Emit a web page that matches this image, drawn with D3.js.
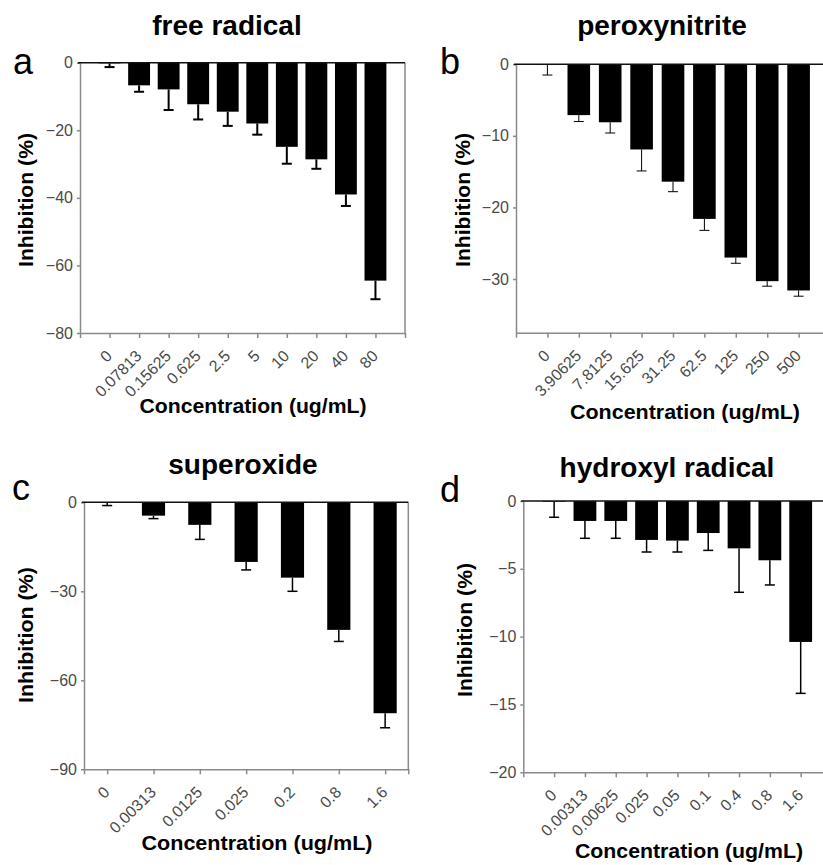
<!DOCTYPE html>
<html>
<head>
<meta charset="utf-8">
<script src="https://cdn.jsdelivr.net/npm/d3@7"></script>
<style>
  body { margin: 0; background: #fff; }
  svg { display: block; font-family: "Liberation Sans", Arial, sans-serif; }
</style>
</head>
<body>
<script>
// panel a - free radical
const concA = ["0", "0.07813", "0.15625", "0.625", "2.5", "5", "10", "20", "40", "80"];
const meanA = [-0.2, -6.7, -7.9, -12.3, -14.5, -18.0, -24.9, -28.6, -39.0, -64.5];
const sdA   = [1.1, 1.9, 6.1, 4.5, 4.2, 3.3, 5.0, 2.8, 3.4, 5.5];
const ticksA = [0, -20, -40, -60, -80];

// panel b - peroxynitrite
const concB = ["0", "3.90625", "7.8125", "15.625", "31.25", "62.5", "125", "250", "500"];
const meanB = [-0.1, -7.1, -8.1, -11.9, -16.4, -21.6, -27.0, -30.3, -31.6];
const sdB   = [1.4, 0.9, 1.5, 3.0, 1.4, 1.6, 0.8, 0.7, 0.8];
const ticksB = [0, -10, -20, -30];

// panel c - superoxide
const concC = ["0", "0.00313", "0.0125", "0.025", "0.2", "0.8", "1.6"];
const meanC = [-0.2, -4.5, -7.6, -20.1, -25.4, -43.0, -71.1];
const sdC   = [0.9, 1.0, 4.9, 2.7, 4.6, 3.9, 4.9];
const ticksC = [0, -30, -60, -90];

// panel d - hydroxyl radical
const concD = ["0", "0.00313", "0.00625", "0.025", "0.05", "0.1", "0.4", "0.8", "1.6"];
const meanD = [-0.05, -1.47, -1.47, -2.87, -2.92, -2.36, -3.49, -4.37, -10.39];
const sdD   = [1.15, 1.28, 1.28, 0.89, 0.84, 1.28, 3.24, 1.82, 3.79];
const ticksD = [0, -5, -10, -15, -20];

const titles = ["free radical", "peroxynitrite", "superoxide", "hydroxyl radical"];
const letters = ["a", "b", "c", "d"];

const svg = d3.select("body").append("svg")
    .attr("width", 823)
    .attr("height", 865);

// layout of each panel
const panels = [
  { cats: concA, mean: meanA, sd: sdA, ticks: ticksA, min: -80,
    left: 80, right: 405, top: 62.7, bottom: 333, pad: 1, barFrac: 0.74, errW: 2,
    titleX: 227, titleY: 35, letterX: 13, letterY: 74,
    yTitleX: 33, yTitleY: 200, yTitleLen: 134, xTitleX: 253, xTitleY: 413, xTitleLen: 227 },
  { cats: concB, mean: meanB, sd: sdB, ticks: ticksB, min: -37.5,
    left: 516, right: 830, top: 64.3, bottom: 332.7, pad: 1, barFrac: 0.72, errW: 1,
    titleX: 662, titleY: 35, letterX: 440, letterY: 74,
    yTitleX: 470, yTitleY: 200, yTitleLen: 134, xTitleX: 685, xTitleY: 419, xTitleLen: 230 },
  { cats: concC, mean: meanC, sd: sdC, ticks: ticksC, min: -90,
    left: 84, right: 408.3, top: 502.3, bottom: 769.3, pad: 0.5, barFrac: 0.5, errW: 1.5,
    titleX: 243, titleY: 474, letterX: 12, letterY: 500,
    yTitleX: 33, yTitleY: 635, yTitleLen: 136, xTitleX: 257, xTitleY: 850, xTitleLen: 231 },
  { cats: concD, mean: meanD, sd: sdD, ticks: ticksD, min: -20,
    left: 523.3, right: 831.5, top: 501, bottom: 772.3, pad: 1, barFrac: 0.74, errW: 1.5,
    titleX: 667, titleY: 477, letterX: 440, letterY: 502,
    yTitleX: 472, yTitleY: 630, yTitleLen: 134, xTitleX: 689, xTitleY: 858, xTitleLen: 228 }
];

panels.forEach(function(p, i) {
  const g = svg.append("g");

  const x = d3.scalePoint()
      .domain(p.cats)
      .range([p.left, p.right])
      .padding(p.pad);

  const y = d3.scaleLinear()
      .domain([p.min, 0])
      .range([p.bottom, p.top]);

  const barW = x.step() * p.barFrac;
  const rows = p.cats.map(function(c, j) { return { cat: c, mean: p.mean[j], sd: p.sd[j] }; });

  // bars
  g.selectAll(".bar")
    .data(rows)
    .enter()
    .append("rect")
    .attr("x", function(d) { return x(d.cat) - barW / 2; })
    .attr("y", y(0))
    .attr("width", barW)
    .attr("height", function(d) { return y(d.mean) - y(0); })
    .attr("fill", "#000");

  // error bars (one side, away from zero)
  g.selectAll(".err")
    .data(rows)
    .enter()
    .append("line")
    .attr("x1", function(d) { return x(d.cat); })
    .attr("x2", function(d) { return x(d.cat); })
    .attr("y1", function(d) { return y(d.mean); })
    .attr("y2", function(d) { return y(d.mean - d.sd); })
    .attr("stroke", "#000")
    .attr("stroke-width", p.errW);

  g.selectAll(".cap")
    .data(rows)
    .enter()
    .append("line")
    .attr("x1", function(d) { return x(d.cat) - 5; })
    .attr("x2", function(d) { return x(d.cat) + 5; })
    .attr("y1", function(d) { return y(d.mean - d.sd); })
    .attr("y2", function(d) { return y(d.mean - d.sd); })
    .attr("stroke", "#000")
    .attr("stroke-width", p.errW);

  // y axis
  const yAxis = g.append("g")
      .attr("transform", "translate(" + p.left + ",0)")
      .call(d3.axisLeft(y).tickValues(p.ticks).tickSize(3).tickSizeOuter(0).tickFormat(d3.format("d")));

  yAxis.selectAll("text")
      .attr("x", -7)
      .style("font-size", "16px")
      .style("fill", "#4a4a4a");

  // x axis
  const xAxis = g.append("g")
      .attr("transform", "translate(0," + p.bottom + ")")
      .call(d3.axisBottom(x).tickSize(5).tickSizeOuter(5));

  xAxis.selectAll("text")
      .attr("x", 0)
      .attr("y", 0)
      .attr("dy", 0)
      .attr("text-anchor", "end")
      .attr("transform", "translate(3,24) rotate(-45)")
      .style("font-size", "16px")
      .style("fill", "#4a4a4a");

  g.selectAll(".domain, .tick line")
      .attr("stroke", "#8a8a8a")
      .attr("stroke-width", 1.5);

  // right frame
  g.append("line")
    .attr("x1", p.right).attr("x2", p.right)
    .attr("y1", p.top).attr("y2", p.bottom)
    .attr("stroke", "#8a8a8a")
    .attr("stroke-width", 1.5);

  // zero line
  g.append("line")
    .attr("x1", p.left - 2).attr("x2", p.right)
    .attr("y1", y(0)).attr("y2", y(0))
    .attr("stroke", "#111")
    .attr("stroke-width", 1.5);

  // titles and labels
  g.append("text")
    .attr("x", p.titleX).attr("y", p.titleY)
    .attr("text-anchor", "middle")
    .style("font-size", "28px")
    .style("font-weight", "bold")
    .text(titles[i]);

  g.append("text")
    .attr("x", p.letterX).attr("y", p.letterY)
    .style("font-size", "36px")
    .text(letters[i]);

  g.append("text")
    .attr("transform", "translate(" + p.yTitleX + "," + p.yTitleY + ") rotate(-90)")
    .attr("text-anchor", "middle")
    .attr("textLength", p.yTitleLen)
    .attr("lengthAdjust", "spacingAndGlyphs")
    .style("font-size", "21px")
    .style("font-weight", "bold")
    .text("Inhibition (%)");

  g.append("text")
    .attr("x", p.xTitleX).attr("y", p.xTitleY)
    .attr("text-anchor", "middle")
    .attr("textLength", p.xTitleLen)
    .attr("lengthAdjust", "spacingAndGlyphs")
    .style("font-size", "20px")
    .style("font-weight", "bold")
    .text("Concentration (ug/mL)");
});
</script>
</body>
</html>
